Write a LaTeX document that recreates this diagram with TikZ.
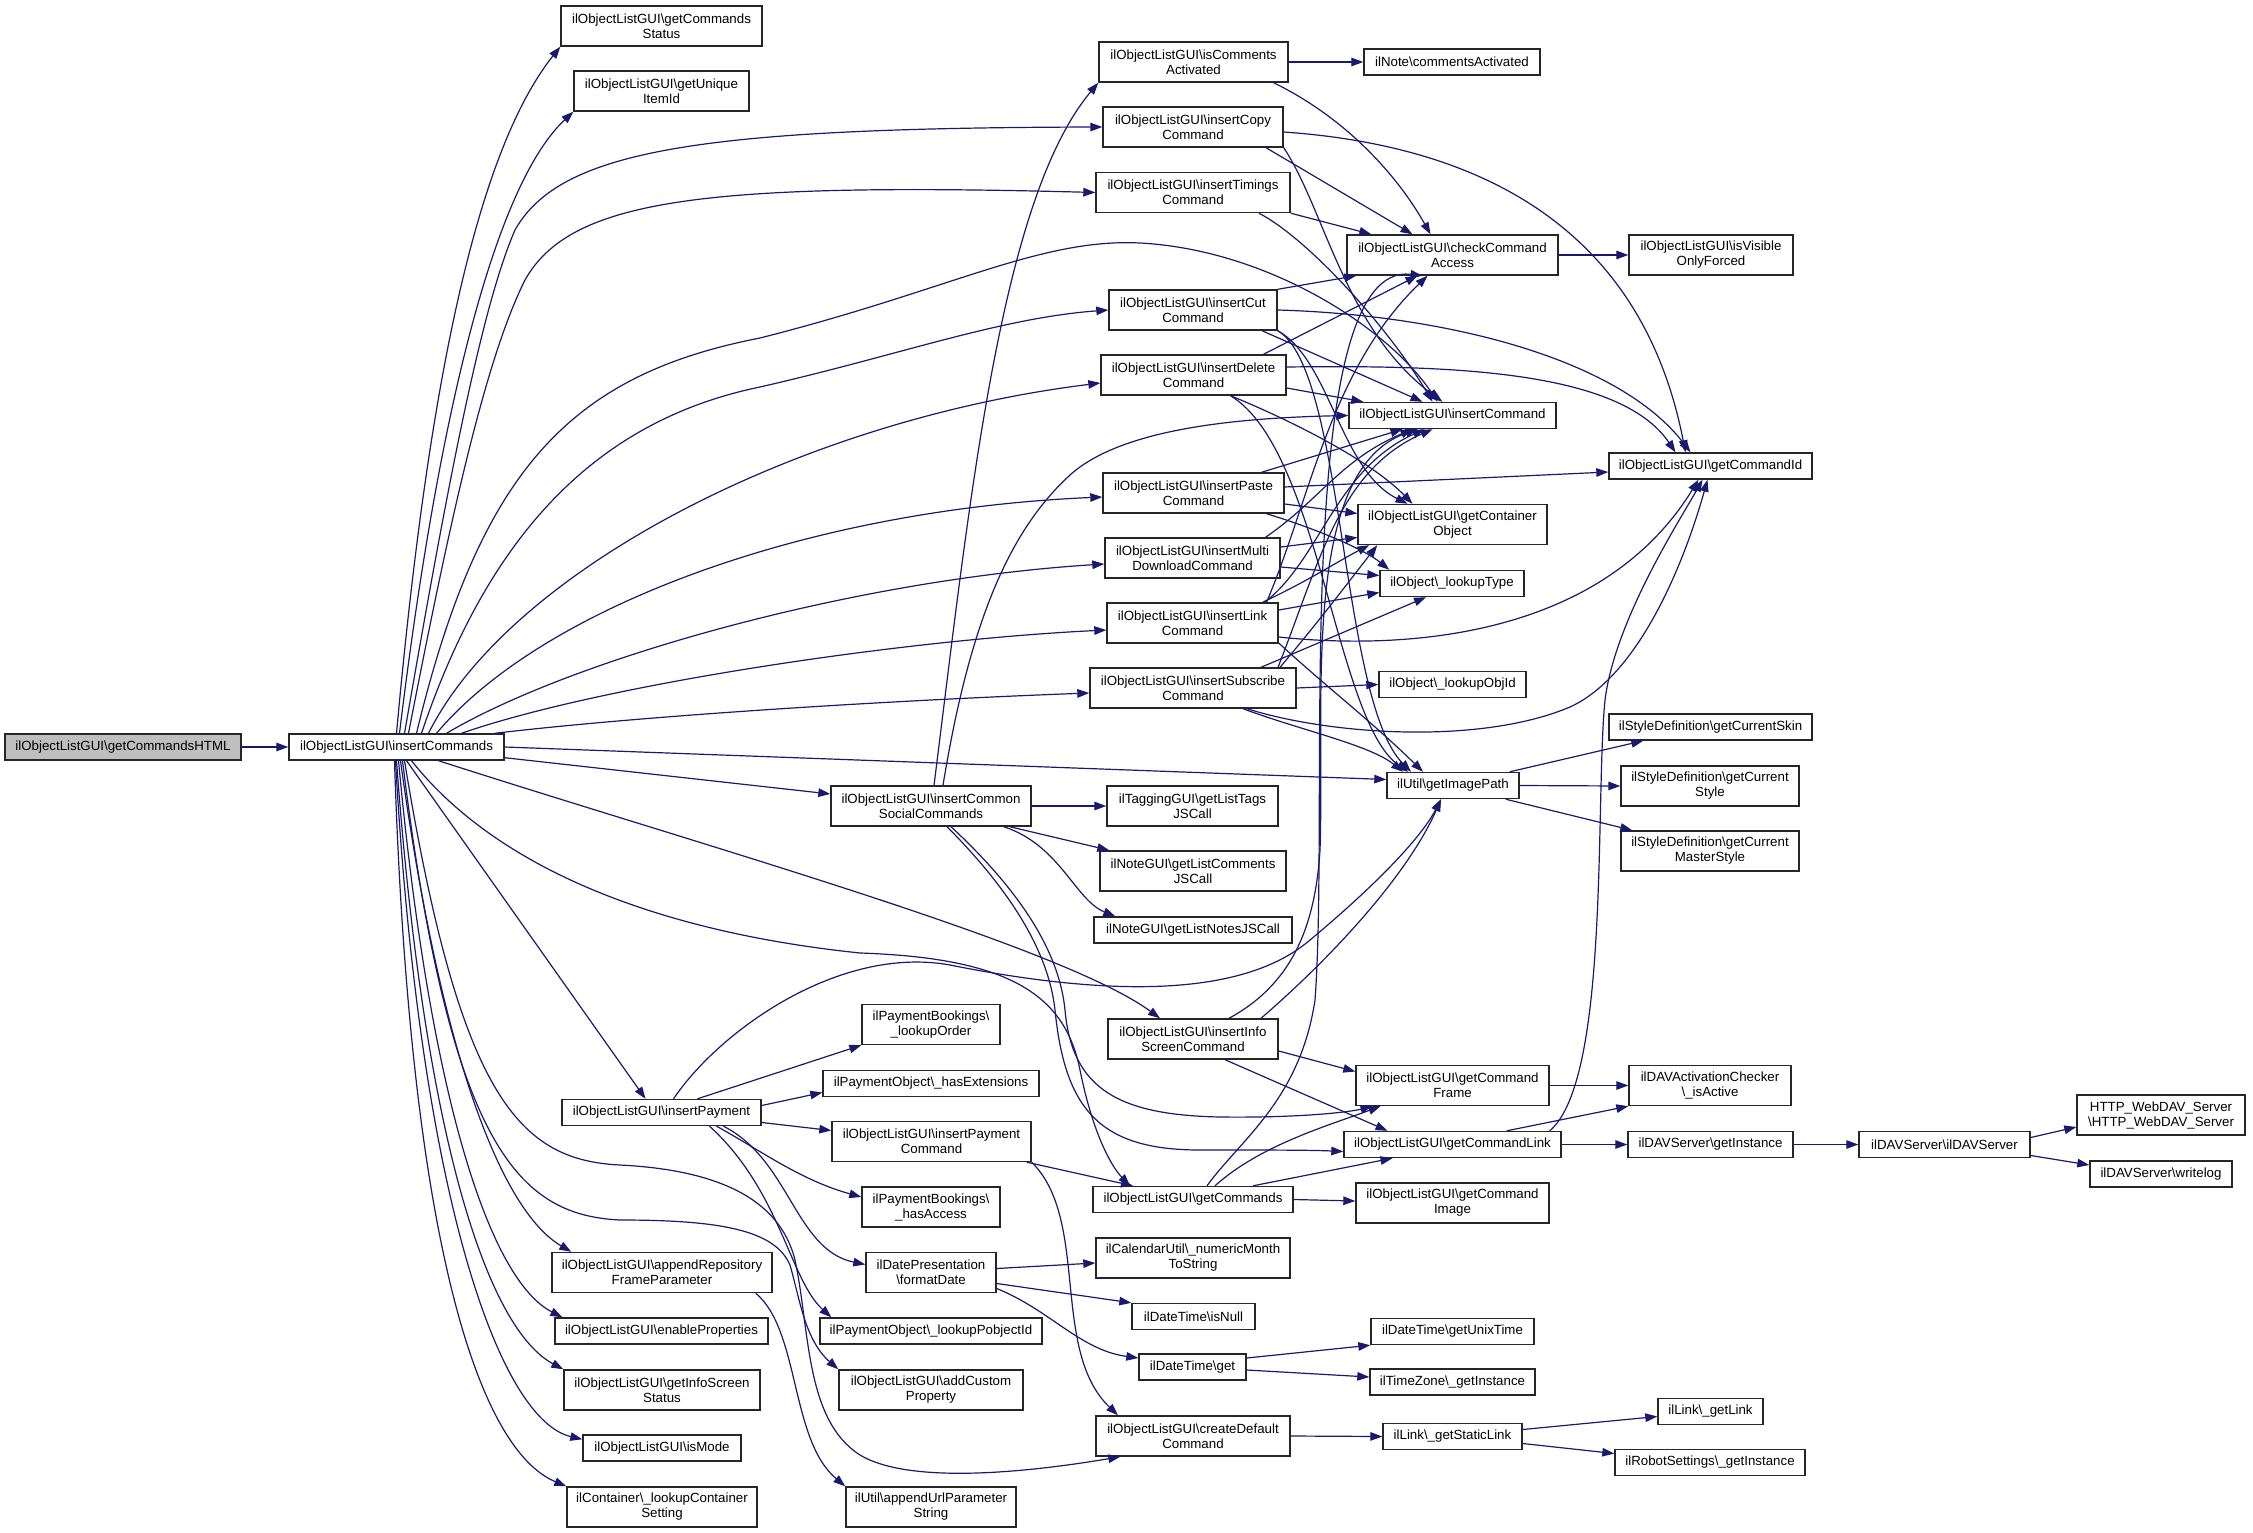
\documentclass[tikz,border=0pt]{standalone}
\usepackage{fontspec}
\setmainfont{Liberation Sans}
\usetikzlibrary{arrows.meta}
\newcommand\bsl{\textbackslash}
\newcommand\dxfont{\fontsize{13.3}{15}\selectfont}
\newcommand\dxbox[6]{\node[box,minimum width=#4pt,minimum height=#5pt] (#1) at (#2,#3) {#6};}
\definecolor{edgeblue}{HTML}{191970}
\begin{document}
\begin{tikzpicture}[x=1pt,y=-1pt,
  box/.style={draw=black!85,line width=1.4pt,fill=white,inner sep=0pt,align=center,font=\dxfont},
  edge/.style={draw=edgeblue,line width=1.2pt,-{Triangle[length=12pt,width=8.5pt]}}]
\useasboundingbox (0,0) rectangle (2253,1533);
\fill[white] (0,0) rectangle (2253,1533);
% ---------------- nodes
\node[box,fill=black!25,minimum width=236pt,minimum height=26pt] (gch) at (123,747) {ilObjectListGUI\bsl getCommandsHTML};
\dxbox{ic}{396.5}{747}{215}{26}{ilObjectListGUI\bsl insertCommands}
\dxbox{gcs}{661.5}{26}{201}{40}{ilObjectListGUI\bsl getCommands\\Status}
\dxbox{guid}{661.5}{91}{175}{40}{ilObjectListGUI\bsl getUnique\\ItemId}
\dxbox{ica}{1193.5}{62}{189}{40}{ilObjectListGUI\bsl isComments\\Activated}
\dxbox{nca}{1452}{62}{176}{26}{ilNote\bsl commentsActivated}
\dxbox{copy}{1193}{127}{180}{40}{ilObjectListGUI\bsl insertCopy\\Command}
\dxbox{tim}{1193}{192.5}{194}{40}{ilObjectListGUI\bsl insertTimings\\Command}
\dxbox{cca}{1452.5}{255}{211}{40}{ilObjectListGUI\bsl checkCommand\\Access}
\dxbox{ivo}{1711}{255}{164}{40}{ilObjectListGUI\bsl isVisible\\OnlyForced}
\dxbox{cut}{1193}{310}{168}{40}{ilObjectListGUI\bsl insertCut\\Command}
\dxbox{del}{1193.5}{375}{185}{40}{ilObjectListGUI\bsl insertDelete\\Command}
\dxbox{icmd}{1452.5}{415.5}{207}{26}{ilObjectListGUI\bsl insertCommand}
\dxbox{gcid}{1710.5}{466}{203}{26}{ilObjectListGUI\bsl getCommandId}
\dxbox{paste}{1193.5}{493}{181}{40}{ilObjectListGUI\bsl insertPaste\\Command}
\dxbox{gco}{1452.5}{524.5}{189}{40}{ilObjectListGUI\bsl getContainer\\Object}
\dxbox{multi}{1192.5}{558}{175}{40}{ilObjectListGUI\bsl insertMulti\\DownloadCommand}
\dxbox{lt}{1452}{583.5}{144}{26}{ilObject\bsl\_lookupType}
\dxbox{link}{1192.5}{623}{171}{40}{ilObjectListGUI\bsl insertLink\\Command}
\dxbox{sub}{1193}{688}{206}{40}{ilObjectListGUI\bsl insertSubscribe\\Command}
\dxbox{loid}{1452.5}{684.5}{147}{26}{ilObject\bsl\_lookupObjId}
\dxbox{skin}{1710.5}{727}{203}{26}{ilStyleDefinition\bsl getCurrentSkin}
\dxbox{gip}{1453}{785.5}{132}{26}{ilUtil\bsl getImagePath}
\dxbox{style}{1710}{786}{178}{40}{ilStyleDefinition\bsl getCurrent\\Style}
\dxbox{mstyle}{1710}{851}{178}{40}{ilStyleDefinition\bsl getCurrent\\MasterStyle}
\dxbox{social}{931}{806}{200}{40}{ilObjectListGUI\bsl insertCommon\\SocialCommands}
\dxbox{tags}{1192.5}{806}{171}{40}{ilTaggingGUI\bsl getListTags\\JSCall}
\dxbox{lcom}{1193}{871}{186}{40}{ilNoteGUI\bsl getListComments\\JSCall}
\dxbox{lnotes}{1193}{930}{198}{26}{ilNoteGUI\bsl getListNotesJSCall}
\dxbox{lord}{931}{1024.5}{138}{40}{ilPaymentBookings\bsl\\\_lookupOrder}
\dxbox{hext}{931}{1083.5}{216}{26}{ilPaymentObject\bsl\_hasExtensions}
\dxbox{info}{1193}{1039}{170}{40}{ilObjectListGUI\bsl insertInfo\\ScreenCommand}
\dxbox{ipc}{931.5}{1141.5}{199}{40}{ilObjectListGUI\bsl insertPayment\\Command}
\dxbox{ip}{661.5}{1112.5}{199}{26}{ilObjectListGUI\bsl insertPayment}
\dxbox{gcf}{1452.5}{1085.5}{193}{40}{ilObjectListGUI\bsl getCommand\\Frame}
\dxbox{dac}{1710}{1085.5}{162}{40}{ilDAVActivationChecker\\\bsl\_isActive}
\dxbox{gcl}{1452.5}{1144.5}{217}{26}{ilObjectListGUI\bsl getCommandLink}
\dxbox{dgi}{1710.5}{1144.5}{165}{26}{ilDAVServer\bsl getInstance}
\dxbox{dav}{1944.5}{1144.5}{171}{26}{ilDAVServer\bsl ilDAVServer}
\dxbox{http}{2161}{1115}{168}{40}{HTTP\_WebDAV\_Server\\\bsl HTTP\_WebDAV\_Server}
\dxbox{wlog}{2161}{1174}{142}{26}{ilDAVServer\bsl writelog}
\dxbox{gcmds}{1193}{1199.5}{200}{26}{ilObjectListGUI\bsl getCommands}
\dxbox{gci}{1452.5}{1203}{193}{40}{ilObjectListGUI\bsl getCommand\\Image}
\dxbox{hacc}{931}{1207}{138}{40}{ilPaymentBookings\bsl\\\_hasAccess}
\dxbox{fd}{931}{1272.5}{130}{40}{ilDatePresentation\\\bsl formatDate}
\dxbox{nm}{1193}{1258}{194}{40}{ilCalendarUtil\bsl\_numericMonth\\ToString}
\dxbox{isnull}{1193.5}{1316.5}{123}{26}{ilDateTime\bsl isNull}
\dxbox{arfp}{662}{1272.5}{220}{40}{ilObjectListGUI\bsl appendRepository\\FrameParameter}
\dxbox{ep}{661.5}{1331}{213}{26}{ilObjectListGUI\bsl enableProperties}
\dxbox{lpo}{931}{1331}{222}{26}{ilPaymentObject\bsl\_lookupPobjectId}
\dxbox{gut}{1452.5}{1331.5}{163}{26}{ilDateTime\bsl getUnixTime}
\dxbox{dtg}{1192.5}{1367}{107}{26}{ilDateTime\bsl get}
\dxbox{tz}{1452.5}{1382}{165}{26}{ilTimeZone\bsl\_getInstance}
\dxbox{giss}{662}{1390}{196}{40}{ilObjectListGUI\bsl getInfoScreen\\Status}
\dxbox{acp}{931}{1390}{184}{40}{ilObjectListGUI\bsl addCustom\\Property}
\dxbox{ism}{662}{1448}{158}{26}{ilObjectListGUI\bsl isMode}
\dxbox{cdc}{1193}{1436}{194}{40}{ilObjectListGUI\bsl createDefault\\Command}
\dxbox{gsl}{1452.5}{1436.5}{139}{26}{ilLink\bsl\_getStaticLink}
\dxbox{gl}{1710.5}{1411.5}{105}{26}{ilLink\bsl\_getLink}
\dxbox{rs}{1710}{1462.5}{190}{26}{ilRobotSettings\bsl\_getInstance}
\dxbox{lcs}{662}{1507}{190}{40}{ilContainer\bsl\_lookupContainer\\Setting}
\dxbox{aups}{931}{1507}{170}{40}{ilUtil\bsl appendUrlParameter\\String}
% ---------------- edges
\draw[edge] (gch) -- (ic);
% insertCommands fan (top)
\draw[edge] (ic.north) .. controls (425,420) and (470,160) .. (gcs.south west);
\draw[edge] ([xshift=3pt]ic.north) .. controls (435,440) and (490,190) .. (guid.south west);
\draw[edge] ([xshift=8pt]ic.north) .. controls (445,500) and (480,310) .. (515,230) .. controls (560,150) and (700,128) .. (copy.west);
\draw[edge] ([xshift=12pt]ic.north) .. controls (450,520) and (485,360) .. (525,280) .. controls (570,200) and (700,182) .. (tim.west);
\draw[edge] ([xshift=20pt]ic.north) .. controls (480,470) and (570,375) .. (760,338) .. controls (950,290) and (1040,238) .. (1140,243) .. controls (1270,250) and (1390,330) .. ([xshift=-15pt]icmd.north);
\draw[edge] ([xshift=25pt]ic.north) .. controls (490,530) and (600,420) .. (760,387) .. controls (900,355) and (1000,318) .. (cut.west);
\draw[edge] ([xshift=32pt]ic.north) .. controls (510,570) and (800,420) .. ([yshift=-8pt]del.west);
\draw[edge] ([xshift=40pt]ic.north) .. controls (540,610) and (800,510) .. ([yshift=-4pt]paste.west);
\draw[edge] ([xshift=50pt]ic.north) .. controls (570,660) and (850,580) .. ([yshift=-6pt]multi.west);
\draw[edge] ([xshift=65pt]ic.north) .. controls (600,685) and (900,640) .. ([yshift=-7pt]link.west);
\draw[edge] ([xshift=-10pt]ic.north east) .. controls (650,715) and (900,700) .. ([yshift=-5pt]sub.west);
\draw[edge] (ic.east) -- ([yshift=6pt]gip.west);
\draw[edge] ([yshift=3pt]ic.south east) -- ([yshift=12pt]social.west);
\draw[edge] ([xshift=42pt]ic.south) .. controls (700,845) and (1060,945) .. ([xshift=-33pt]info.north);
\draw[edge] ([xshift=15pt]ic.south) .. controls (490,860) and (640,930) .. (860,953) .. controls (1010,958) and (1065,995) .. (1080,1070) .. controls (1092,1130) and (1110,1165) .. ([xshift=-63pt]gcmds.north);
\draw[edge] ([xshift=10pt]ic.south) -- ([xshift=-16pt]ip.north);
% insertCommands fan (bottom)
\draw[edge] ([xshift=4pt]ic.south) .. controls (440,1050) and (500,1210) .. ([xshift=20pt]arfp.north west);
\draw[edge] ([xshift=2pt]ic.south) .. controls (430,1100) and (490,1280) .. ([xshift=8pt]ep.north west);
\draw[edge] (ic.south) .. controls (425,1150) and (490,1330) .. (giss.north west);
\draw[edge] ([xshift=-1pt]ic.south) .. controls (420,1200) and (500,1420) .. ([yshift=-5pt]ism.north west);
\draw[edge] ([xshift=-2pt]ic.south) .. controls (410,1250) and (480,1450) .. (lcs.north west);
\draw[edge] ([xshift=6pt]ic.south) .. controls (450,1150) and (520,1215) .. (620,1220) .. controls (720,1220) and (775,1230) .. (790,1265) .. controls (800,1300) and (805,1340) .. (acp.north west);
\draw[edge] ([xshift=8pt]ic.south) .. controls (460,1100) and (520,1160) .. (620,1165) .. controls (720,1170) and (780,1200) .. (795,1260) .. controls (810,1330) and (805,1420) .. (860,1455) .. controls (910,1485) and (1030,1472) .. ([xshift=25pt]cdc.south west);
% insertPayment
\draw[edge] ([xshift=12pt]ip.north) .. controls (720,1030) and (840,945) .. (950,965) .. controls (1100,995) and (1240,1000) .. (1310,940) .. controls (1370,890) and (1420,840) .. ([xshift=-12pt]gip.south);
\draw[edge] ([xshift=36pt]ip.north) -- (lord.south west);
\draw[edge] ([yshift=7pt]ip.east) -- ([yshift=-9pt]hext.west);
\draw[edge] ([yshift=-10pt]ip.east) -- ([yshift=11pt]ipc.west);
\draw[edge] ([xshift=55pt]ip.south) .. controls (760,1150) and (800,1180) .. ([yshift=10pt]hacc.west);
\draw[edge] ([xshift=62pt]ip.south) .. controls (790,1160) and (795,1250) .. ([yshift=8pt]fd.west);
\draw[edge] ([xshift=48pt]ip.south) .. controls (780,1190) and (790,1280) .. ([xshift=12pt]lpo.north west);
\draw[edge] ([xshift=-17pt]arfp.south east) .. controls (800,1330) and (790,1440) .. (aups.north west);
% formatDate / dates
\draw[edge] ([yshift=4pt]fd.east) -- ([yshift=-5pt]nm.west);
\draw[edge] ([yshift=-11pt]fd.east) -- (isnull.north west);
\draw[edge] ([yshift=-16pt]fd.east) .. controls (1050,1310) and (1080,1350) .. ([yshift=9pt]dtg.west);
\draw[edge] ([yshift=9pt]dtg.east) -- (gut.south west);
\draw[edge] ([yshift=-3pt]dtg.east) -- ([yshift=5pt]tz.west);
\draw[edge] (cdc.east) -- (gsl.west);
\draw[edge] ([yshift=7pt]gsl.east) -- ([yshift=-5pt]gl.west);
\draw[edge] ([yshift=-7pt]gsl.east) -- ([yshift=9pt]rs.west);
% insertPaymentCommand / getCommands
\draw[edge] ([xshift=-5pt]ipc.south east) -- ([xshift=-60pt]gcmds.north);
\draw[edge] (ipc.south east) .. controls (1090,1220) and (1050,1350) .. ([xshift=-75pt]cdc.north);
\draw[edge] (gcmds.east) -- ([yshift=2pt]gci.west);
\draw[edge] ([xshift=60pt]gcmds.north) -- ([xshift=-60pt]gcl.south);
\draw[edge] ([xshift=22pt]gcmds.north) .. controls (1260,1145) and (1330,1125) .. ([xshift=-72pt]gcf.south);
\draw[edge] ([xshift=14pt]gcmds.north) .. controls (1240,1140) and (1300,1100) .. (1315,1000) .. controls (1330,800) and (1290,260) .. ([xshift=-30pt]cca.south);
% getCommandLink / Frame / DAV
\draw[edge] ([xshift=-55pt]gcl.north east) -- (dac.south west);
\draw[edge] (gcl.east) -- (dgi.west);
\draw[edge] ([xshift=-12pt]gcl.north east) .. controls (1610,1080) and (1595,800) .. (1605,700) .. controls (1615,620) and (1680,520) .. ([xshift=-8pt]gcid.south);
\draw[edge] (gcf.east) -- (dac.west);
\draw[edge] (dgi.east) -- (dav.west);
\draw[edge] ([yshift=7pt]dav.east) -- ([yshift=-12pt]http.west);
\draw[edge] ([yshift=-11pt]dav.east) -- ([yshift=9pt]wlog.west);
% insertInfoScreenCommand
\draw[edge] ([yshift=-12pt]info.east) -- ([yshift=14pt]gcf.west);
\draw[edge] ([xshift=32pt]info.south) -- ([xshift=-65pt]gcl.north);
\draw[edge] ([xshift=36pt]info.north) .. controls (1290,985) and (1315,930) .. (1320,850) .. controls (1325,700) and (1300,470) .. ([xshift=-35pt]icmd.south);
\draw[edge] ([xshift=68pt]info.north) .. controls (1340,950) and (1410,870) .. ([xshift=-12pt]gip.south);
% insertCommonSocialCommands
\draw[edge] ([xshift=3pt]social.north) .. controls (970,500) and (1000,200) .. (ica.south west);
\draw[edge] ([xshift=12pt]social.north) .. controls (970,620) and (1010,530) .. (1070,475) .. controls (1120,430) and (1230,418) .. (icmd.west);
\draw[edge] (social.east) -- (tags.west);
\draw[edge] ([xshift=-22pt]social.south east) -- ([xshift=10pt]lcom.north west);
\draw[edge] ([xshift=-28pt]social.south east) .. controls (1060,845) and (1075,900) .. ([xshift=22pt]lnotes.north west);
\draw[edge] ([xshift=20pt]social.south) .. controls (1030,900) and (1060,960) .. (1065,1010) .. controls (1072,1090) and (1120,1115) .. (1220,1117) .. controls (1300,1118) and (1350,1112) .. ([xshift=-80pt]gcf.south);
\draw[edge] ([xshift=16pt]social.south) .. controls (1025,905) and (1050,965) .. (1055,1010) .. controls (1065,1110) and (1100,1150) .. (1200,1150) .. controls (1270,1150) and (1310,1150) .. ([yshift=-7pt]gcl.west);
% isCommentsActivated / checkCommandAccess
\draw[edge] (ica.east) -- (nca.west);
\draw[edge] ([xshift=80pt]ica.south) .. controls (1350,120) and (1400,180) .. ([xshift=-22pt]cca.north);
\draw[edge] (cca.east) -- (ivo.west);
% insertCopyCommand
\draw[edge] ([xshift=73pt]copy.south) -- ([xshift=-40pt]cca.north);
\draw[edge] ([yshift=-5pt]copy.east) .. controls (1470,145) and (1640,220) .. ([xshift=-25pt]gcid.north);
\draw[edge] (copy.south east) .. controls (1325,210) and (1345,330) .. ([xshift=-10pt]icmd.north);
% insertTimingsCommand
\draw[edge] (tim.south east) -- ([xshift=25pt]cca.north west);
\draw[edge] ([xshift=66pt]tim.south) .. controls (1310,240) and (1390,330) .. ([xshift=-20pt]icmd.north);
% insertCutCommand
\draw[edge] (cut.north east) -- ([xshift=10pt]cca.south west);
\draw[edge] (cut.east) .. controls (1450,315) and (1620,360) .. ([xshift=-20pt]gcid.north);
\draw[edge] ([xshift=69pt]cut.south) -- ([xshift=-30pt]icmd.north);
\draw[edge] (cut.south east) .. controls (1330,360) and (1340,470) .. ([xshift=-45pt]gco.north);
\draw[edge] (cut.south east) .. controls (1345,370) and (1340,700) .. ([xshift=-42pt]gip.north);
% insertDeleteCommand
\draw[edge] ([xshift=70pt]del.north) -- ([xshift=-35pt]cca.south);
\draw[edge] ([yshift=8pt]del.east) .. controls (1450,365) and (1620,370) .. ([xshift=-35pt]gcid.north);
\draw[edge] ([yshift=-13pt]del.east) -- ([xshift=15pt]icmd.north west);
\draw[edge] ([xshift=37pt]del.south) .. controls (1290,420) and (1370,460) .. ([xshift=-40pt]gco.north);
\draw[edge] ([xshift=37pt]del.south) .. controls (1320,450) and (1335,720) .. ([xshift=-45pt]gip.north);
% insertPasteCommand
\draw[edge] ([yshift=6pt]paste.east) -- ([yshift=-6pt]gcid.west);
\draw[edge] ([yshift=-11pt]paste.east) -- ([yshift=11pt]gco.west);
\draw[edge] ([xshift=73pt]paste.south) .. controls (1320,530) and (1365,550) .. ([xshift=10pt]lt.north west);
\draw[edge] ([xshift=68pt]paste.north) -- ([xshift=-50pt]icmd.south);
% insertMultiDownloadCommand
\draw[edge] ([xshift=73pt]multi.north) .. controls (1320,500) and (1340,460) .. ([xshift=-40pt]icmd.south);
\draw[edge] ([yshift=11pt]multi.east) -- ([yshift=-13pt]gco.west);
\draw[edge] ([yshift=-9pt]multi.east) -- ([yshift=8pt]lt.west);
% insertLinkCommand
\draw[edge] ([xshift=72pt]link.north) .. controls (1320,560) and (1335,470) .. ([xshift=-28pt]icmd.south);
\draw[edge] ([xshift=70pt]link.north) .. controls (1310,580) and (1340,560) .. ([xshift=12pt]gco.south west);
\draw[edge] ([yshift=13pt]link.east) -- ([yshift=-9pt]lt.west);
\draw[edge] ([yshift=-14pt]link.east) .. controls (1400,650) and (1600,640) .. ([xshift=-12pt]gcid.south);
\draw[edge] ([xshift=74pt]link.north) .. controls (1310,500) and (1330,370) .. ([xshift=-25pt]cca.south);
\draw[edge] ([yshift=-20pt]link.east) .. controls (1330,690) and (1370,720) .. ([xshift=-30pt]gip.north);
% insertSubscribeCommand
\draw[edge] ([xshift=68pt]sub.north) -- ([xshift=-26pt]lt.south);
\draw[edge] ([xshift=85pt]sub.north) .. controls (1320,560) and (1340,470) .. ([xshift=-20pt]icmd.south);
\draw[edge] ([xshift=87pt]sub.north) .. controls (1320,620) and (1350,580) .. ([xshift=20pt]gco.south west);
\draw[edge] (sub.east) -- (loid.west);
\draw[edge] ([xshift=54pt]sub.south) .. controls (1330,735) and (1480,745) .. (1570,707) .. controls (1640,675) and (1685,560) .. ([xshift=-3pt]gcid.south);
\draw[edge] ([xshift=50pt]sub.south) .. controls (1300,730) and (1370,745) .. ([xshift=-50pt]gip.north);
% getImagePath
\draw[edge] ([xshift=-10pt]gip.north east) -- ([xshift=35pt]skin.south west);
\draw[edge] (gip.east) -- (style.west);
\draw[edge] ([xshift=-14pt]gip.south east) -- ([xshift=12pt]mstyle.north west);
\end{tikzpicture}
\end{document}
